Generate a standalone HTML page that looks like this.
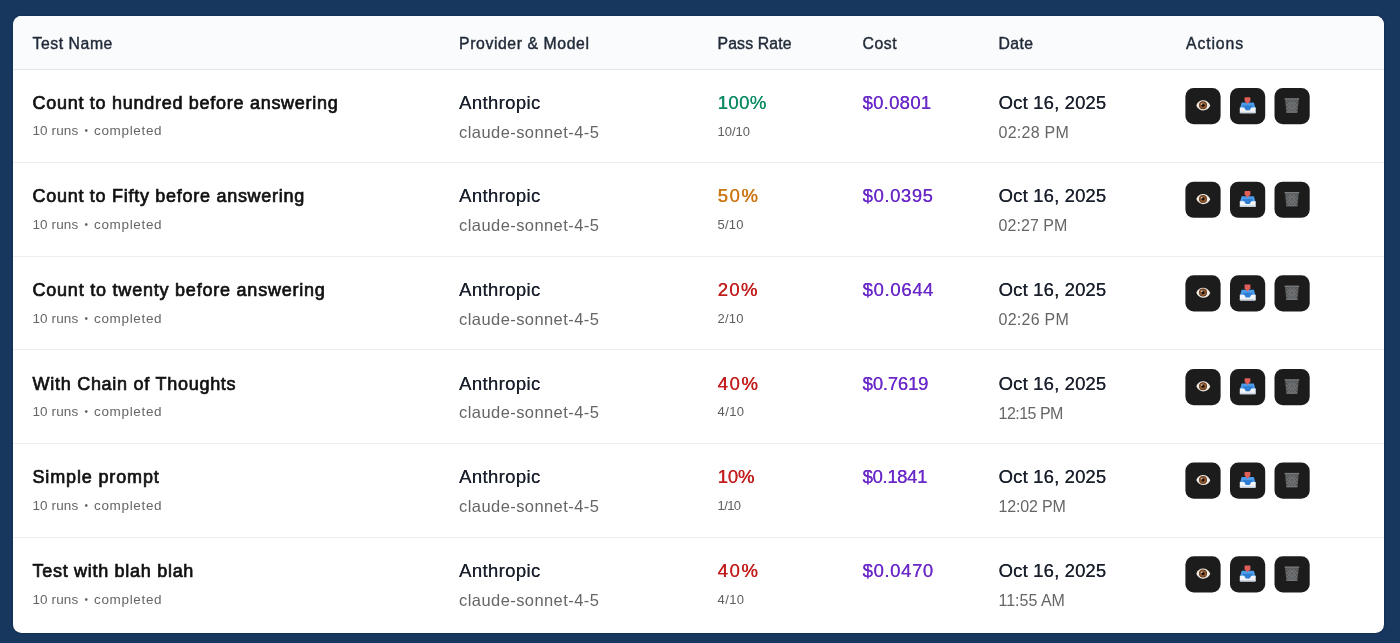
<!DOCTYPE html>
<html lang="en">
<head>
<meta charset="utf-8">
<title>Test Runs</title>
<style>
*{box-sizing:border-box;margin:0;padding:0}
html,body{width:1400px;height:643px;overflow:hidden}
body{background:#17375e;font-family:"Liberation Sans",Arial,sans-serif;position:relative}
.card{position:absolute;left:12.500px;top:16px;width:1371.500px;height:616.500px;background:#fff;border-radius:8.500px;overflow:hidden;box-shadow:0 0 2px rgba(0,12,40,.55)}
.head{position:absolute;left:0;top:0;width:100%;height:54px;background:#fafbfc;border-bottom:1px solid #e3e5e9}
.ln{position:absolute;left:0;width:100%;height:1px;background:#ededef}
.card span{position:absolute;white-space:nowrap}
.card span i,.card span b,.card span u{position:static}
.h{top:18px;line-height:20px;font-size:15.800px;color:#1f2937;-webkit-text-stroke:.42px #1f2937}
.c1{left:20px}.c2{left:446.600px}.c3{left:705px}.c4{left:850px}.c5{left:986px}.c6{left:1173.500px}
.t{font-size:18px;line-height:20px;color:#111;-webkit-text-stroke:.7px #111}
.s{font-size:13.500px;line-height:16px;color:#666}
.s i{font-style:normal;letter-spacing:.1px}.s b{font-weight:400;letter-spacing:.66px}
.s u{text-decoration:none;display:inline-block;width:15.800px;text-align:center;font-size:10px;vertical-align:1px}
.f{font-size:13px;line-height:16px;color:#5e5e5e}
.p{font-size:18.500px;line-height:22px;color:#19202c}
.pa{letter-spacing:.36px;text-shadow:.15px 0 #19202c}.pd{letter-spacing:.15px;text-shadow:.25px 0 #19202c}
.m{font-size:16.500px;line-height:20px;color:#666;letter-spacing:.42px}
.tm{font-size:16px;line-height:20px;color:#666}
.r{text-shadow:.4px 0 currentColor}
.g{color:#0c8a63}.o{color:#cc7512}.rd{color:#c21f1f}
.cost{color:#6a28c8;text-shadow:.25px 0 #6a28c8}
.btn{position:absolute;width:37px;height:38px;display:block}
.b1{left:1172.500px}.b2{left:1217.500px}.b3{left:1261.500px}
</style>
</head>
<body>
<div class="card">
<div class="head"></div>
<span class="h c1" style="letter-spacing:0.55px;">Test Name</span><span class="h c2" style="letter-spacing:0.58px;">Provider &amp; Model</span><span class="h c3" style="letter-spacing:0.15px;">Pass Rate</span><span class="h c4" style="letter-spacing:0.54px;">Cost</span><span class="h c5" style="letter-spacing:0.41px;">Date</span><span class="h c6" style="letter-spacing:0.88px;">Actions</span>
<div class="ln" style="top:146px"></div>
<div class="ln" style="top:240px"></div>
<div class="ln" style="top:333px"></div>
<div class="ln" style="top:427px"></div>
<div class="ln" style="top:521px"></div>
<span class="c1 t" style="letter-spacing:0.72px;top:77px">Count to hundred before answering</span><span class="c1 s" style="top:107px"><i>10 runs</i><u> • </u><b>completed</b></span>
<span class="c2 p pa" style="top:76px">Anthropic</span><span class="c2 m" style="top:106px">claude-sonnet-4-5</span>
<span class="c3 p r g" style="letter-spacing:0.42px;top:76px">100%</span><span class="c3 f" style="top:108px">10/10</span>
<span class="c4 p cost" style="letter-spacing:0.27px;top:76px">$0.0801</span>
<span class="c5 p pd" style="top:76px">Oct 16, 2025</span><span class="c5 tm" style="letter-spacing:0.27px;top:107px">02:28 PM</span>
<svg class="btn b1" style="top:72px" viewBox="0 0 37 38" width="37" height="38"><g transform="translate(0.4 0.0)"><rect width="35.200" height="36.200" rx="8.300" fill="#1c1c1c"/><path d="M10.900 17.400C13.300 10.700 21.900 10.500 24.900 17.600C21.900 24.100 13.700 24.200 10.900 17.400Z" fill="#f2ece5"/><circle cx="17.600" cy="17.300" r="4" fill="#5a3318"/><circle cx="17.600" cy="17.300" r="3.300" fill="#8f5a32"/><circle cx="17.600" cy="17.300" r="1.600" fill="#1c0e06"/><circle cx="16.400" cy="16.100" r=".8" fill="#fff" opacity=".8"/></g></svg><svg class="btn b2" style="top:72px" viewBox="0 0 37 38" width="37" height="38"><g transform="translate(0 0.0)"><rect width="35.200" height="36.200" rx="8.300" fill="#1c1c1c"/><path d="M11.600 14.500h12.300l1.800 6.800h-15.900z" fill="#4d9cea"/><path d="M12.600 17.400h10.300l-1.600 5.200h-7.100z" fill="#2f7ed4"/><path d="M14.600 10q0-.7.700-.7h4.400q.7 0 .7.700v2.900l-2.900 3.200-2.900-3.200z" fill="#e05f58"/><path d="M9.800 19.500h4.400l1.600 2.800h3.900l1.600-2.800h4.400v5q0 .7-.7.700h-14.500q-.7 0-.7-.7z" fill="#f1f5f9"/><path d="M9.800 23.700h15.900v.8q0 .7-.7.700h-14.500q-.7 0-.7-.7z" fill="#cdd6e0"/></g></svg><svg class="btn b3" style="top:72px" viewBox="0 0 37 38" width="37" height="38"><g transform="translate(0.5 0.0)"><rect width="35.200" height="36.200" rx="8.300" fill="#1c1c1c"/><path d="M10.400 10.700h14l-1.400 13.400q-.1.600-.7.600h-9.800q-.6 0-.7-.6z" fill="#56585a"/><path d="M10.100 10.300h14.600v1.300h-14.600z" fill="#7a7d7f"/><g stroke="#85888a" stroke-width=".55" fill="none" opacity=".9"><path d="M12 12.600l9.600 11.100M14.400 12.200l8.200 9.100M17.800 12.200l5.300 5.800M11.500 15.500l7.200 8.600M12 19.400l4.300 4.800"/><path d="M22.800 12.600l-9.600 11.100M20.400 12.200l-8.200 9.100M17 12.200l-5.300 5.800M23.300 15.500l-7.200 8.600M22.800 19.400l-4.300 4.800"/><ellipse cx="17.400" cy="17.600" rx="2.500" ry="3"/></g><path d="M11.700 23.500h11.400l-.1.600q-.1.600-.7.600h-9.800q-.6 0-.7-.6z" fill="#737577"/></g></svg>
<span class="c1 t" style="letter-spacing:0.72px;top:170px">Count to Fifty before answering</span><span class="c1 s" style="top:201px"><i>10 runs</i><u> • </u><b>completed</b></span>
<span class="c2 p pa" style="top:169px">Anthropic</span><span class="c2 m" style="top:199px">claude-sonnet-4-5</span>
<span class="c3 p r o" style="letter-spacing:1.63px;top:169px">50%</span><span class="c3 f" style="letter-spacing:0.26px;top:201px">5/10</span>
<span class="c4 p cost" style="letter-spacing:0.59px;top:169px">$0.0395</span>
<span class="c5 p pd" style="top:169px">Oct 16, 2025</span><span class="c5 tm" style="letter-spacing:0.06px;top:200px">02:27 PM</span>
<svg class="btn b1" style="top:165px" viewBox="0 0 37 38" width="37" height="38"><g transform="translate(0.4 0.65)"><rect width="35.200" height="36.200" rx="8.300" fill="#1c1c1c"/><path d="M10.900 17.400C13.300 10.700 21.900 10.500 24.900 17.600C21.900 24.100 13.700 24.200 10.900 17.400Z" fill="#f2ece5"/><circle cx="17.600" cy="17.300" r="4" fill="#5a3318"/><circle cx="17.600" cy="17.300" r="3.300" fill="#8f5a32"/><circle cx="17.600" cy="17.300" r="1.600" fill="#1c0e06"/><circle cx="16.400" cy="16.100" r=".8" fill="#fff" opacity=".8"/></g></svg><svg class="btn b2" style="top:165px" viewBox="0 0 37 38" width="37" height="38"><g transform="translate(0 0.65)"><rect width="35.200" height="36.200" rx="8.300" fill="#1c1c1c"/><path d="M11.600 14.500h12.300l1.800 6.800h-15.900z" fill="#4d9cea"/><path d="M12.600 17.400h10.300l-1.600 5.200h-7.100z" fill="#2f7ed4"/><path d="M14.600 10q0-.7.700-.7h4.400q.7 0 .7.700v2.900l-2.900 3.200-2.900-3.200z" fill="#e05f58"/><path d="M9.800 19.500h4.400l1.600 2.800h3.900l1.600-2.800h4.400v5q0 .7-.7.700h-14.500q-.7 0-.7-.7z" fill="#f1f5f9"/><path d="M9.800 23.700h15.900v.8q0 .7-.7.700h-14.500q-.7 0-.7-.7z" fill="#cdd6e0"/></g></svg><svg class="btn b3" style="top:165px" viewBox="0 0 37 38" width="37" height="38"><g transform="translate(0.5 0.65)"><rect width="35.200" height="36.200" rx="8.300" fill="#1c1c1c"/><path d="M10.400 10.700h14l-1.400 13.400q-.1.600-.7.600h-9.800q-.6 0-.7-.6z" fill="#56585a"/><path d="M10.100 10.300h14.600v1.300h-14.600z" fill="#7a7d7f"/><g stroke="#85888a" stroke-width=".55" fill="none" opacity=".9"><path d="M12 12.600l9.600 11.100M14.400 12.200l8.200 9.100M17.800 12.200l5.300 5.800M11.500 15.500l7.200 8.600M12 19.400l4.300 4.800"/><path d="M22.800 12.600l-9.600 11.100M20.400 12.200l-8.200 9.100M17 12.200l-5.300 5.800M23.300 15.500l-7.200 8.600M22.800 19.400l-4.300 4.800"/><ellipse cx="17.400" cy="17.600" rx="2.500" ry="3"/></g><path d="M11.700 23.500h11.400l-.1.600q-.1.600-.7.600h-9.800q-.6 0-.7-.6z" fill="#737577"/></g></svg>
<span class="c1 t" style="letter-spacing:0.78px;top:264px">Count to twenty before answering</span><span class="c1 s" style="top:295px"><i>10 runs</i><u> • </u><b>completed</b></span>
<span class="c2 p pa" style="top:263px">Anthropic</span><span class="c2 m" style="top:293px">claude-sonnet-4-5</span>
<span class="c3 p r rd" style="letter-spacing:1.38px;top:263px">20%</span><span class="c3 f" style="letter-spacing:0.26px;top:295px">2/10</span>
<span class="c4 p cost" style="letter-spacing:0.67px;top:263px">$0.0644</span>
<span class="c5 p pd" style="top:263px">Oct 16, 2025</span><span class="c5 tm" style="letter-spacing:0.25px;top:294px">02:26 PM</span>
<svg class="btn b1" style="top:259px" viewBox="0 0 37 38" width="37" height="38"><g transform="translate(0.4 0.3)"><rect width="35.200" height="36.200" rx="8.300" fill="#1c1c1c"/><path d="M10.900 17.400C13.300 10.700 21.900 10.500 24.900 17.600C21.900 24.100 13.700 24.200 10.900 17.400Z" fill="#f2ece5"/><circle cx="17.600" cy="17.300" r="4" fill="#5a3318"/><circle cx="17.600" cy="17.300" r="3.300" fill="#8f5a32"/><circle cx="17.600" cy="17.300" r="1.600" fill="#1c0e06"/><circle cx="16.400" cy="16.100" r=".8" fill="#fff" opacity=".8"/></g></svg><svg class="btn b2" style="top:259px" viewBox="0 0 37 38" width="37" height="38"><g transform="translate(0 0.3)"><rect width="35.200" height="36.200" rx="8.300" fill="#1c1c1c"/><path d="M11.600 14.500h12.300l1.800 6.800h-15.900z" fill="#4d9cea"/><path d="M12.600 17.400h10.300l-1.600 5.200h-7.100z" fill="#2f7ed4"/><path d="M14.600 10q0-.7.700-.7h4.400q.7 0 .7.700v2.900l-2.900 3.200-2.900-3.200z" fill="#e05f58"/><path d="M9.800 19.500h4.400l1.600 2.800h3.900l1.600-2.800h4.400v5q0 .7-.7.700h-14.500q-.7 0-.7-.7z" fill="#f1f5f9"/><path d="M9.800 23.700h15.900v.8q0 .7-.7.700h-14.500q-.7 0-.7-.7z" fill="#cdd6e0"/></g></svg><svg class="btn b3" style="top:259px" viewBox="0 0 37 38" width="37" height="38"><g transform="translate(0.5 0.3)"><rect width="35.200" height="36.200" rx="8.300" fill="#1c1c1c"/><path d="M10.400 10.700h14l-1.400 13.400q-.1.600-.7.600h-9.800q-.6 0-.7-.6z" fill="#56585a"/><path d="M10.100 10.300h14.600v1.300h-14.600z" fill="#7a7d7f"/><g stroke="#85888a" stroke-width=".55" fill="none" opacity=".9"><path d="M12 12.600l9.600 11.100M14.400 12.200l8.200 9.100M17.800 12.200l5.300 5.800M11.500 15.500l7.200 8.600M12 19.400l4.300 4.800"/><path d="M22.800 12.600l-9.600 11.100M20.400 12.200l-8.200 9.100M17 12.200l-5.300 5.800M23.300 15.500l-7.200 8.600M22.800 19.400l-4.300 4.800"/><ellipse cx="17.400" cy="17.600" rx="2.500" ry="3"/></g><path d="M11.700 23.500h11.400l-.1.600q-.1.600-.7.600h-9.800q-.6 0-.7-.6z" fill="#737577"/></g></svg>
<span class="c1 t" style="letter-spacing:0.73px;top:358px">With Chain of Thoughts</span><span class="c1 s" style="top:388px"><i>10 runs</i><u> • </u><b>completed</b></span>
<span class="c2 p pa" style="top:357px">Anthropic</span><span class="c2 m" style="top:386px">claude-sonnet-4-5</span>
<span class="c3 p r rd" style="letter-spacing:1.63px;top:357px">40%</span><span class="c3 f" style="letter-spacing:0.43px;top:388px">4/10</span>
<span class="c4 p cost" style="letter-spacing:-0.16px;top:357px">$0.7619</span>
<span class="c5 p pd" style="top:357px">Oct 16, 2025</span><span class="c5 tm" style="letter-spacing:-0.51px;top:388px">12:15 PM</span>
<svg class="btn b1" style="top:352px" viewBox="0 0 37 38" width="37" height="38"><g transform="translate(0.4 0.95)"><rect width="35.200" height="36.200" rx="8.300" fill="#1c1c1c"/><path d="M10.900 17.400C13.300 10.700 21.900 10.500 24.900 17.600C21.900 24.100 13.700 24.200 10.900 17.400Z" fill="#f2ece5"/><circle cx="17.600" cy="17.300" r="4" fill="#5a3318"/><circle cx="17.600" cy="17.300" r="3.300" fill="#8f5a32"/><circle cx="17.600" cy="17.300" r="1.600" fill="#1c0e06"/><circle cx="16.400" cy="16.100" r=".8" fill="#fff" opacity=".8"/></g></svg><svg class="btn b2" style="top:352px" viewBox="0 0 37 38" width="37" height="38"><g transform="translate(0 0.95)"><rect width="35.200" height="36.200" rx="8.300" fill="#1c1c1c"/><path d="M11.600 14.500h12.300l1.800 6.800h-15.900z" fill="#4d9cea"/><path d="M12.600 17.400h10.300l-1.600 5.200h-7.100z" fill="#2f7ed4"/><path d="M14.600 10q0-.7.700-.7h4.400q.7 0 .7.700v2.900l-2.900 3.200-2.900-3.200z" fill="#e05f58"/><path d="M9.800 19.500h4.400l1.600 2.800h3.900l1.600-2.800h4.400v5q0 .7-.7.700h-14.500q-.7 0-.7-.7z" fill="#f1f5f9"/><path d="M9.800 23.700h15.900v.8q0 .7-.7.700h-14.500q-.7 0-.7-.7z" fill="#cdd6e0"/></g></svg><svg class="btn b3" style="top:352px" viewBox="0 0 37 38" width="37" height="38"><g transform="translate(0.5 0.95)"><rect width="35.200" height="36.200" rx="8.300" fill="#1c1c1c"/><path d="M10.400 10.700h14l-1.400 13.400q-.1.600-.7.600h-9.800q-.6 0-.7-.6z" fill="#56585a"/><path d="M10.100 10.300h14.600v1.300h-14.600z" fill="#7a7d7f"/><g stroke="#85888a" stroke-width=".55" fill="none" opacity=".9"><path d="M12 12.600l9.600 11.100M14.400 12.200l8.200 9.100M17.800 12.200l5.300 5.800M11.500 15.500l7.200 8.600M12 19.400l4.300 4.800"/><path d="M22.800 12.600l-9.600 11.100M20.400 12.200l-8.200 9.100M17 12.200l-5.300 5.800M23.300 15.500l-7.200 8.600M22.800 19.400l-4.300 4.800"/><ellipse cx="17.400" cy="17.600" rx="2.500" ry="3"/></g><path d="M11.700 23.500h11.400l-.1.600q-.1.600-.7.600h-9.800q-.6 0-.7-.6z" fill="#737577"/></g></svg>
<span class="c1 t" style="letter-spacing:0.85px;top:451px">Simple prompt</span><span class="c1 s" style="top:482px"><i>10 runs</i><u> • </u><b>completed</b></span>
<span class="c2 p pa" style="top:450px">Anthropic</span><span class="c2 m" style="top:480px">claude-sonnet-4-5</span>
<span class="c3 p r rd" style="letter-spacing:-0.12px;top:450px">10%</span><span class="c3 f" style="letter-spacing:-0.57px;top:482px">1/10</span>
<span class="c4 p cost" style="letter-spacing:-0.36px;top:450px">$0.1841</span>
<span class="c5 p pd" style="top:450px">Oct 16, 2025</span><span class="c5 tm" style="letter-spacing:-0.15px;top:481px">12:02 PM</span>
<svg class="btn b1" style="top:446px" viewBox="0 0 37 38" width="37" height="38"><g transform="translate(0.4 0.6)"><rect width="35.200" height="36.200" rx="8.300" fill="#1c1c1c"/><path d="M10.900 17.400C13.300 10.700 21.900 10.500 24.900 17.600C21.900 24.100 13.700 24.200 10.900 17.400Z" fill="#f2ece5"/><circle cx="17.600" cy="17.300" r="4" fill="#5a3318"/><circle cx="17.600" cy="17.300" r="3.300" fill="#8f5a32"/><circle cx="17.600" cy="17.300" r="1.600" fill="#1c0e06"/><circle cx="16.400" cy="16.100" r=".8" fill="#fff" opacity=".8"/></g></svg><svg class="btn b2" style="top:446px" viewBox="0 0 37 38" width="37" height="38"><g transform="translate(0 0.6)"><rect width="35.200" height="36.200" rx="8.300" fill="#1c1c1c"/><path d="M11.600 14.500h12.300l1.800 6.800h-15.900z" fill="#4d9cea"/><path d="M12.600 17.400h10.300l-1.600 5.200h-7.100z" fill="#2f7ed4"/><path d="M14.600 10q0-.7.700-.7h4.400q.7 0 .7.700v2.900l-2.900 3.200-2.900-3.200z" fill="#e05f58"/><path d="M9.800 19.500h4.400l1.600 2.800h3.900l1.600-2.800h4.400v5q0 .7-.7.700h-14.500q-.7 0-.7-.7z" fill="#f1f5f9"/><path d="M9.800 23.700h15.900v.8q0 .7-.7.700h-14.500q-.7 0-.7-.7z" fill="#cdd6e0"/></g></svg><svg class="btn b3" style="top:446px" viewBox="0 0 37 38" width="37" height="38"><g transform="translate(0.5 0.6)"><rect width="35.200" height="36.200" rx="8.300" fill="#1c1c1c"/><path d="M10.400 10.700h14l-1.400 13.400q-.1.600-.7.600h-9.800q-.6 0-.7-.6z" fill="#56585a"/><path d="M10.100 10.300h14.600v1.300h-14.600z" fill="#7a7d7f"/><g stroke="#85888a" stroke-width=".55" fill="none" opacity=".9"><path d="M12 12.600l9.600 11.100M14.400 12.200l8.200 9.100M17.800 12.200l5.300 5.800M11.500 15.500l7.200 8.600M12 19.400l4.300 4.800"/><path d="M22.800 12.600l-9.600 11.100M20.400 12.200l-8.200 9.100M17 12.200l-5.300 5.800M23.300 15.500l-7.200 8.600M22.800 19.400l-4.300 4.800"/><ellipse cx="17.400" cy="17.600" rx="2.500" ry="3"/></g><path d="M11.700 23.500h11.400l-.1.600q-.1.600-.7.600h-9.800q-.6 0-.7-.6z" fill="#737577"/></g></svg>
<span class="c1 t" style="letter-spacing:0.71px;top:545px">Test with blah blah</span><span class="c1 s" style="top:576px"><i>10 runs</i><u> • </u><b>completed</b></span>
<span class="c2 p pa" style="top:544px">Anthropic</span><span class="c2 m" style="top:574px">claude-sonnet-4-5</span>
<span class="c3 p r rd" style="letter-spacing:1.63px;top:544px">40%</span><span class="c3 f" style="letter-spacing:0.43px;top:576px">4/10</span>
<span class="c4 p cost" style="letter-spacing:0.62px;top:544px">$0.0470</span>
<span class="c5 p pd" style="top:544px">Oct 16, 2025</span><span class="c5 tm" style="top:575px">11:55 AM</span>
<svg class="btn b1" style="top:540px" viewBox="0 0 37 38" width="37" height="38"><g transform="translate(0.4 0.25)"><rect width="35.200" height="36.200" rx="8.300" fill="#1c1c1c"/><path d="M10.900 17.400C13.300 10.700 21.900 10.500 24.900 17.600C21.900 24.100 13.700 24.200 10.900 17.400Z" fill="#f2ece5"/><circle cx="17.600" cy="17.300" r="4" fill="#5a3318"/><circle cx="17.600" cy="17.300" r="3.300" fill="#8f5a32"/><circle cx="17.600" cy="17.300" r="1.600" fill="#1c0e06"/><circle cx="16.400" cy="16.100" r=".8" fill="#fff" opacity=".8"/></g></svg><svg class="btn b2" style="top:540px" viewBox="0 0 37 38" width="37" height="38"><g transform="translate(0 0.25)"><rect width="35.200" height="36.200" rx="8.300" fill="#1c1c1c"/><path d="M11.600 14.500h12.300l1.800 6.800h-15.900z" fill="#4d9cea"/><path d="M12.600 17.400h10.300l-1.600 5.200h-7.100z" fill="#2f7ed4"/><path d="M14.600 10q0-.7.700-.7h4.400q.7 0 .7.700v2.900l-2.900 3.200-2.900-3.200z" fill="#e05f58"/><path d="M9.800 19.500h4.400l1.600 2.800h3.900l1.600-2.800h4.400v5q0 .7-.7.700h-14.500q-.7 0-.7-.7z" fill="#f1f5f9"/><path d="M9.800 23.700h15.900v.8q0 .7-.7.700h-14.500q-.7 0-.7-.7z" fill="#cdd6e0"/></g></svg><svg class="btn b3" style="top:540px" viewBox="0 0 37 38" width="37" height="38"><g transform="translate(0.5 0.25)"><rect width="35.200" height="36.200" rx="8.300" fill="#1c1c1c"/><path d="M10.400 10.700h14l-1.400 13.400q-.1.600-.7.600h-9.800q-.6 0-.7-.6z" fill="#56585a"/><path d="M10.100 10.300h14.600v1.300h-14.600z" fill="#7a7d7f"/><g stroke="#85888a" stroke-width=".55" fill="none" opacity=".9"><path d="M12 12.600l9.600 11.100M14.400 12.200l8.200 9.100M17.800 12.200l5.300 5.800M11.500 15.500l7.200 8.600M12 19.400l4.300 4.800"/><path d="M22.800 12.600l-9.600 11.100M20.400 12.200l-8.200 9.100M17 12.200l-5.300 5.800M23.300 15.500l-7.200 8.600M22.800 19.400l-4.300 4.800"/><ellipse cx="17.400" cy="17.600" rx="2.500" ry="3"/></g><path d="M11.700 23.500h11.400l-.1.600q-.1.600-.7.600h-9.800q-.6 0-.7-.6z" fill="#737577"/></g></svg>
</div>
</body>
</html>
